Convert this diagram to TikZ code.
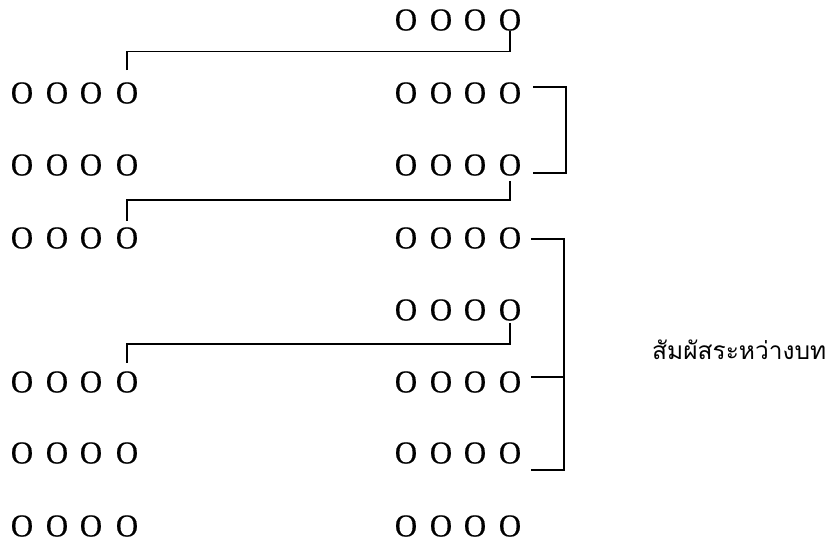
\documentclass[tikz,border=0pt]{standalone}
\usepackage{fontspec}
\setmainfont{Liberation Serif}
\newfontfamily\ofont{Liberation Serif}[FakeBold=0.5]
\newfontfamily\thaifont[Script=Thai]{Loma}
\newcommand{\oglyph}{\scalebox{0.96}[1]{O}}
\begin{document}
\begin{tikzpicture}[x=1pt,y=-1pt,
  o/.style={inner sep=0pt, font=\ofont\fontsize{32}{34}\selectfont},
  ln/.style={line width=1.1pt, line join=miter},
  lbl/.style={inner sep=0pt, anchor=west, font=\thaifont\fontsize{24.5}{28}\selectfont}]
\useasboundingbox (0,0) rectangle (838,542);
% right column
\foreach \n/\y in {0/20,1/93,2/165,3/238,4/310,5/382,6/453,7/526} {
  \foreach \c/\x in {a/406,b/441,c/475,d/510} {\node[o] (R\n\c) at (\x,\y) {\oglyph};}
}
% left column
\foreach \n/\y in {1/93,2/165,3/238,5/382,6/453,7/526} {
  \foreach \c/\x in {a/22,b/57,c/91,d/127} {\node[o] (L\n\c) at (\x,\y) {\oglyph};}
}
% links between stanzas' lines
\draw[ln] ([yshift=12pt]L1d.north) -- ++(0,-19) -| (R0d.south);
\draw[ln] ([yshift=-5pt]R2d.south) -- ++(0,19) -| ([yshift=6pt]L3d.north);
\draw[ln] ([yshift=-2pt]R4d.south) -- ++(0,21) -| ([yshift=8pt]L5d.north);
% brackets
\coordinate (B1t) at (533,87);
\coordinate (B1b) at (533,173);
\draw[ln] (B1t) -- ++(33,0) |- (B1b);
\coordinate (B2t) at (531,239);
\coordinate (B2m) at (531,377);
\coordinate (B2b) at (531,470);
\draw[ln] (B2t) -- ++(33,0) |- (B2b);
\draw[ln] (B2m) -- ++(33,0);
% label
\node[lbl] (label) at (652,350) {สัมผัสระหว่างบท};
\end{tikzpicture}
\end{document}
